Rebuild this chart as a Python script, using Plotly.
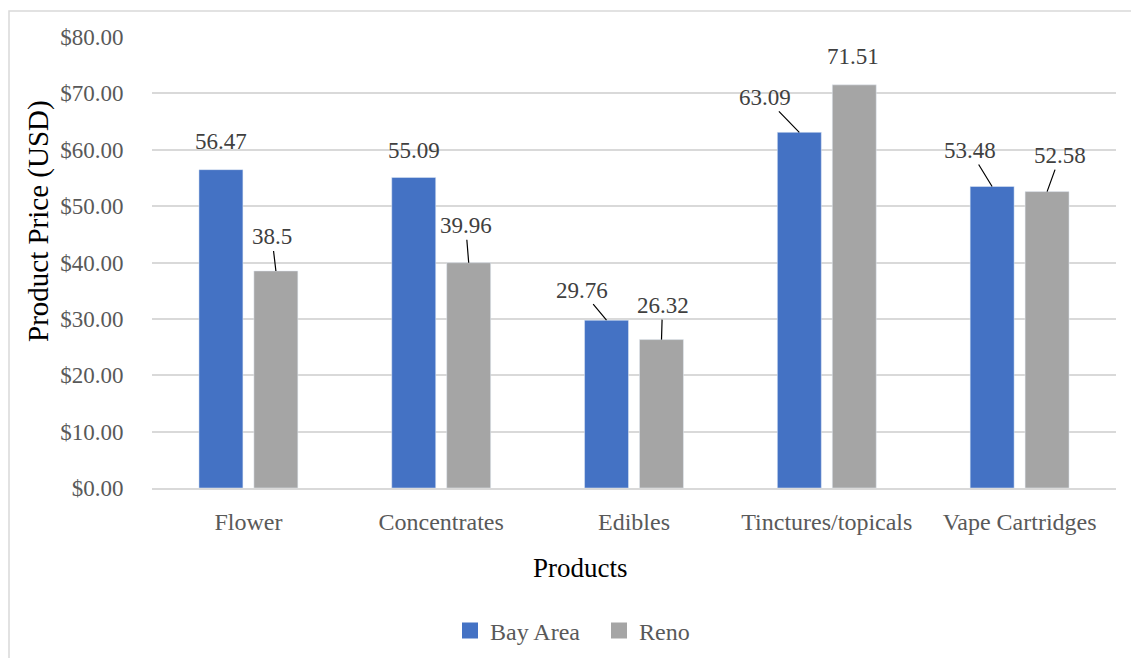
import plotly.graph_objects as go

categories = ["Flower", "Concentrates", "Edibles", "Tinctures/topicals", "Vape Cartridges"]
bay_area = [56.47, 55.09, 29.76, 63.09, 53.48]
reno = [38.5, 39.96, 26.32, 71.51, 52.58]
series_names = ["Bay Area", "Reno"]
y_ticks = [0, 10, 20, 30, 40, 50, 60, 70, 80]

BLUE = "#4472C4"
GRAY = "#A5A5A5"
FONT = "Liberation Serif"

W, H = 1131, 658
L, R, T, B = 152, 1116, 37, 488  # plot area in px

# label offsets (px) of text centre relative to bar top, and whether a leader line is drawn
bay_off = [(0, -28, False), (0, -27, False), (-25, -30, True), (-34, -35, True), (-22, -36, True)]
reno_off = [(-4, -34, True), (-3, -37, True), (1, -34, True), (-1, -28, False), (13, -36, True)]

fig = go.Figure()
fig.add_trace(go.Bar(x=categories, y=bay_area, name=series_names[0], marker_color=BLUE, showlegend=False))
fig.add_trace(go.Bar(x=categories, y=reno, name=series_names[1], marker_color=GRAY, showlegend=False))
# legend entries
for nm, col in zip(series_names, [BLUE, GRAY]):
    fig.add_trace(go.Scatter(x=[None], y=[None], mode="markers", name=nm,
                             marker=dict(symbol="square", size=16, color=col)))

annotations = []
for vals, offs, shift in [(bay_area, bay_off, -27.5), (reno, reno_off, 27.5)]:
    for c, v, (ax, ay, line) in zip(categories, vals, offs):
        annotations.append(dict(
            x=c, y=v, xref="x", yref="y", xshift=shift,
            text=f"{v:g}", showarrow=True, ax=ax, ay=ay,
            arrowhead=0, arrowwidth=1.2,
            arrowcolor="#000000" if line else "rgba(0,0,0,0)",
            standoff=0, startstandoff=0,
            font=dict(family=FONT, size=23, color="#404040"),
        ))

# axis titles
annotations.append(dict(text="Product Price (USD)", xref="paper", yref="paper",
                        x=(38 - L) / (R - L), y=(B - 221) / (B - T), textangle=-90,
                        xanchor="center", yanchor="middle",
                        showarrow=False, font=dict(family=FONT, size=29, color="#000000")))
annotations.append(dict(text="Products", xref="paper", yref="paper",
                        x=(580 - L) / (R - L), y=(B - 568) / (B - T),
                        xanchor="center", yanchor="middle",
                        showarrow=False, font=dict(family=FONT, size=27, color="#000000")))

# outer chart border
shapes = [dict(type="rect", xref="paper", yref="paper",
               x0=(9 - L) / (R - L), x1=(1140 - L) / (R - L),
               y0=(B - 670) / (B - T), y1=(B - 11) / (B - T),
               line=dict(color="#D9D9D9", width=1.5), fillcolor="rgba(0,0,0,0)", layer="below")]

fig.update_layout(
    width=W, height=H,
    margin=dict(l=L, r=W - R, t=T, b=H - B, autoexpand=False),
    paper_bgcolor="white", plot_bgcolor="white",
    barmode="group", bargap=0.43, bargroupgap=0.2,
    font=dict(family=FONT, color="#595959"),
    annotations=annotations, shapes=shapes,
    legend=dict(orientation="h", x=(599 - L) / (R - L), xanchor="center",
                y=(B - 631) / (B - T), yanchor="middle",
                font=dict(family=FONT, size=24, color="#595959"),
                itemwidth=30, entrywidth=104, bgcolor="rgba(0,0,0,0)"),
)
fig.update_yaxes(range=[0, 80], tickvals=y_ticks, ticktext=[f"${t:.2f}" for t in y_ticks],
                 showgrid=True, gridcolor="#D9D9D9", gridwidth=1.5, zeroline=False,
                 ticks="outside", ticklen=23, tickcolor="rgba(0,0,0,0)",
                 tickfont=dict(family=FONT, size=23, color="#595959"), automargin=False)
fig.update_xaxes(showline=True, linecolor="#D9D9D9", linewidth=1.5,
                 ticks="outside", ticklen=11, tickcolor="rgba(0,0,0,0)",
                 tickfont=dict(family=FONT, size=24, color="#595959"), automargin=False)

fig.write_html("out.html", config={"displayModeBar": False},
               post_script="document.body.style.margin='0px';")
